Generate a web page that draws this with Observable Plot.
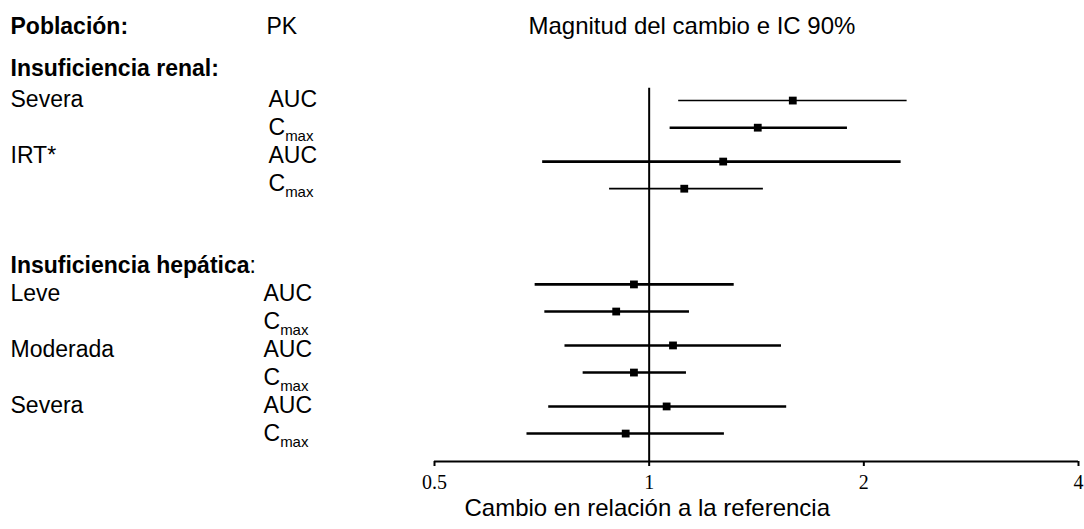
<!DOCTYPE html>
<html><head><meta charset="utf-8">
<script src="https://cdn.jsdelivr.net/npm/d3@7"></script>
<script src="https://cdn.jsdelivr.net/npm/@observablehq/plot@0.6"></script>
<style>body{margin:0;background:#fff} #chart{width:1084px;height:529px}</style>
</head><body><div id="chart"></div>
<script>
// ---- data ----
const columnHeaders = ["Población:", "PK"];
const chartTitle = "Magnitud del cambio e IC 90%";
const xLabel = "Cambio en relación a la referencia";
const sectionTitles = ["Insuficiencia renal:", "Insuficiencia hepática:"];
const groupNames = ["Severa", "IRT*", "Leve", "Moderada", "Severa"];
const groupSection = [0, 0, 1, 1, 1];
const paramNames = ["AUC", "Cmax"];
const estimate = [1.59, 1.42, 1.27, 1.12, 0.952, 0.899, 1.08, 0.952, 1.058, 0.927];
const lower    = [1.10, 1.07, 0.709, 0.88, 0.692, 0.714, 0.762, 0.808, 0.723, 0.674];
const upper    = [2.30, 1.897, 2.256, 1.446, 1.316, 1.139, 1.533, 1.128, 1.559, 1.275];
const xTicks = [0.5, 1, 2, 4];

// ---- layout (row units) ----
const L = {
  yMax: 17, topY: 0.96, headerY: [2.5, 9.77],
  lineStart: [3.69, 10.47], groupStep: 2.25, pairStep: 1,
  labelStart: [3.65, 10.82], labelStep: 1.03, refTop: 3.24
};
const colA = -424, colB = [-166, -171], titleDx = 94;

const rows = [];
groupNames.forEach((g, gi) => {
  const s = groupSection[gi];
  const gIn = gi - groupSection.indexOf(s);
  paramNames.forEach((p, pi) => {
    const i = gi * 2 + pi;
    rows.push({group: g, param: p, est: estimate[i], lo: lower[i], hi: upper[i], idx: i, first: pi === 0, section: s,
      yLine: L.lineStart[s] + gIn * L.groupStep + pi * L.pairStep,
      yLabel: L.labelStart[s] + (gIn * 2 + pi) * L.labelStep});
  });
});

const F = "'Liberation Sans', Arial, Helvetica, sans-serif";
const txt = {frameAnchor: "left", textAnchor: "start", lineAnchor: "middle", fontSize: 23, fill: "#000"};

const chart = Plot.plot({
  width: 1084, height: 529,
  marginLeft: 434, marginRight: 6, marginTop: 0, marginBottom: 68,
  style: {fontFamily: F, background: "#fff", color: "#000"},
  x: {type: "log", base: 2, domain: [0.5, 4]},
  y: {domain: [0, L.yMax], reverse: true, axis: null},
  marks: [
    Plot.ruleX([1], {y1: L.refTop, y2: L.yMax, strokeWidth: 2}),
    Plot.ruleY([L.yMax], {strokeWidth: 2}),
    Plot.axisX({ticks: xTicks, tickSize: 5, tickPadding: 8, tickFormat: d => String(d),
      fontFamily: "'Liberation Serif', 'Times New Roman', serif", fontSize: 20, strokeWidth: 2, label: null}),
    Plot.ruleY(rows, {y: "yLine", x1: "lo", x2: "hi",
      strokeWidth: d => d.idx === 0 ? 1.4 : d.idx === 3 ? 1.8 : 2.6}),
    Plot.dot(rows, {x: "est", y: "yLine", symbol: "square", r: 4.4, fill: "#000", stroke: null}),
    // left column texts
    Plot.text([{t: columnHeaders[0], y: L.topY}], {...txt, text: "t", y: "y", dx: colA, fontWeight: "bold"}),
    Plot.text([{t: columnHeaders[1], y: L.topY}], {...txt, text: "t", y: "y", dx: colB[0] - 2}),
    Plot.text([{t: chartTitle, y: L.topY}], {...txt, text: "t", y: "y", dx: titleDx, fontSize: 24}),
    Plot.text(sectionTitles.map((t, s) => ({t, y: L.headerY[s]})), {...txt, text: "t", y: "y", dx: colA, fontWeight: "bold"}),
    Plot.text(rows.filter(d => d.first), {...txt, text: "group", y: "yLabel", dx: colA}),
    Plot.text(rows.filter(d => d.section === 0), {...txt, text: "param", y: "yLabel", dx: colB[0]}),
    Plot.text(rows.filter(d => d.section === 1), {...txt, text: "param", y: "yLabel", dx: colB[1]}),
    Plot.text([xLabel], {frameAnchor: "bottom-left", textAnchor: "start", lineAnchor: "middle", dx: 30, dy: 47, fontSize: 24, fill: "#000"})
  ]
});
document.getElementById("chart").appendChild(chart);

// rich text: subscripts and non-bold colon
d3.select(chart).selectAll("text").each(function () {
  const t = d3.select(this);
  const s = this.textContent;
  if (s === "Cmax") {
    t.text(null);
    t.append("tspan").text("C");
    t.append("tspan").attr("font-size", 15).attr("dy", "0.4em").text("max");
  } else if (s === sectionTitles[1]) {
    t.text(null);
    t.append("tspan").text(s.slice(0, -1));
    t.append("tspan").attr("font-weight", "normal").text(":");
  }
});
</script></body></html>
